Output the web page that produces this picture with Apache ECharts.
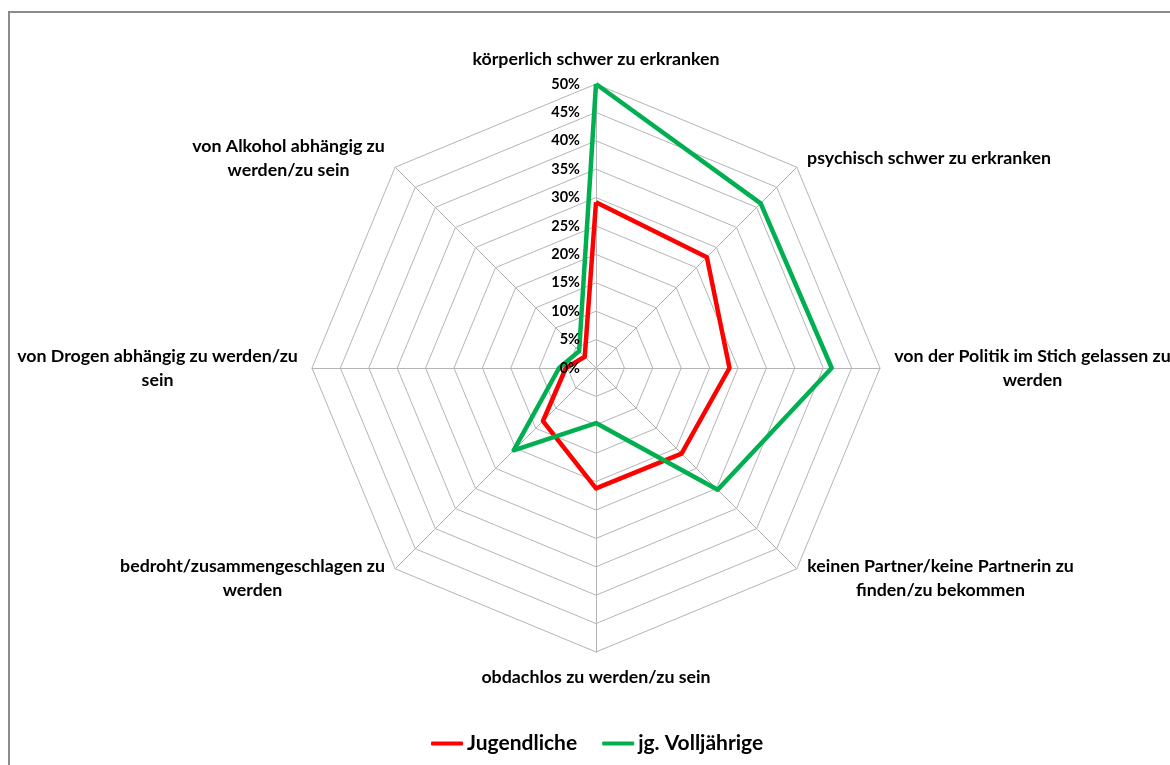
<!DOCTYPE html>
<html><head><meta charset="utf-8">
<script src="https://cdn.jsdelivr.net/npm/echarts@6/dist/echarts.min.js"></script>
<style>
html,body{margin:0;padding:0;background:#fff;overflow:hidden;}
#c{width:1170px;height:765px;position:absolute;left:0;top:0;}
#frame{position:absolute;left:8px;top:11px;width:1300px;height:900px;border-top:2px solid #8c8c8c;border-left:2px solid #8c8c8c;}
</style>
</head><body><div id="frame"></div><div id="c"></div>
<script>
// categories clockwise from the top
const categories = [
  'körperlich schwer zu erkranken',
  'psychisch schwer zu erkranken',
  'von der Politik im Stich gelassen zu\nwerden',
  'keinen Partner/keine Partnerin zu\nfinden/zu bekommen',
  'obdachlos zu werden/zu sein',
  'bedroht/zusammengeschlagen zu\nwerden',
  'von Drogen abhängig zu werden/zu\nsein',
  'von Alkohol abhängig zu\nwerden/zu sein'
];
const jugendliche = [29.2, 27.6, 23.5, 21.3, 21.2, 13.2, 5.3, 2.8];
const volljaehrige = [50, 41, 41.5, 30.3, 9.7, 20.5, 6.5, 4.2];
const tickLabels = ['0%','5%','10%','15%','20%','25%','30%','35%','40%','45%','50%'];
const seriesNames = ['Jugendliche', 'jg. Volljährige'];

const FONT = 'Lato';
const NAME_SIZE = 17.8;
const ctx = document.createElement('canvas').getContext('2d');
ctx.font = 'bold ' + NAME_SIZE + 'px ' + FONT;

// ECharts radar runs counter-clockwise: reorder clockwise data
const order = [0, 7, 6, 5, 4, 3, 2, 1];
const rich = {};
const indicator = order.map(function (k, j) {
  const lines = categories[k].split('\n');
  let w = 0;
  lines.forEach(function (l) { w = Math.max(w, ctx.measureText(l).width); });
  rich['r' + j] = { width: Math.ceil(w) + 2, align: 'center', fontFamily: FONT, fontWeight: 'bold', fontSize: NAME_SIZE, color: '#000', lineHeight: 24 };
  return { name: categories[k], min: 0, max: 50, _j: j };
});
// overlay radar (same geometry) carrying only the tick labels, drawn above the lines
const labelIndicator = order.map(function (k, j) {
  const ind = { name: categories[k], min: 0, max: 50 };
  if (j !== 0) ind.axisLabel = { show: false };
  return ind;
});

const common = { center: [596, 368], radius: 284, startAngle: 90, shape: 'polygon', splitNumber: 10 };

const chart = echarts.init(document.getElementById('c'), null, { renderer: 'canvas' });
chart.setOption({
  animation: false,
  backgroundColor: 'transparent',
  legend: {
    bottom: 6,
    left: 426,
    icon: 'roundRect',
    itemWidth: 32,
    itemHeight: 4,
    itemGap: 25,
    textStyle: { fontFamily: FONT, fontWeight: 'bold', fontSize: 21, color: '#000', padding: [0, 0, 0, -1] },
    data: seriesNames
  },
  radar: [
    Object.assign({}, common, {
      z: 1,
      indicator: indicator,
      nameGap: 13,
      axisName: {
        color: '#000',
        fontFamily: FONT,
        fontWeight: 'bold',
        fontSize: NAME_SIZE,
        lineHeight: 24,
        formatter: function (name, ind) {
          const j = ind._j;
          return name.split('\n').map(function (l) { return '{r' + j + '|' + l + '}'; }).join('\n');
        },
        rich: rich
      },
      axisLine: { show: true, lineStyle: { color: '#b4b4b4', width: 1 } },
      splitLine: { show: true, lineStyle: { color: '#b4b4b4', width: 1 } },
      splitArea: { show: false },
      axisTick: { show: false },
      axisLabel: { show: false }
    }),
    Object.assign({}, common, {
      z: 10,
      indicator: labelIndicator,
      axisName: { show: false },
      axisLine: { show: false },
      splitLine: { show: false },
      splitArea: { show: false },
      axisTick: { show: false },
      axisLabel: {
        show: true,
        color: '#000',
        fontFamily: FONT,
        fontWeight: 'bold',
        fontSize: 14.5,
        margin: 16,
        formatter: function (v) { return tickLabels[Math.round(v / 5)]; }
      }
    })
  ],
  series: [{
    type: 'radar',
    radarIndex: 0,
    z: 2,
    symbol: 'none',
    silent: true,
    data: [
      { name: seriesNames[0], value: order.map(function (k) { return jugendliche[k]; }),
        lineStyle: { color: '#ff0000', width: 4.5 }, itemStyle: { color: '#ff0000' } },
      { name: seriesNames[1], value: order.map(function (k) { return volljaehrige[k]; }),
        lineStyle: { color: '#00b050', width: 4.5 }, itemStyle: { color: '#00b050' } }
    ]
  }]
});
</script>
</body></html>
